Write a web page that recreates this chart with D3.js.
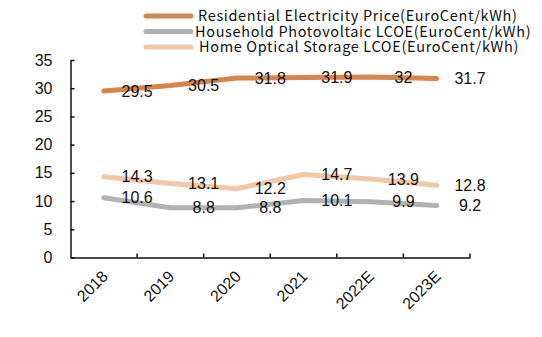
<!DOCTYPE html>
<html>
<head>
<meta charset="utf-8">
<script src="https://cdn.jsdelivr.net/npm/d3@7"></script>
<style>
  body { margin: 0; background: #fff; }
  svg { display: block; }
  .num { font-family: "Liberation Sans", Arial, sans-serif; font-size: 16px; fill: #111; }
  .legend text { font-family: "Noto Sans CJK SC", "Noto Sans", sans-serif; font-size: 14.5px; letter-spacing: 0.65px; fill: #111; }
</style>
</head>
<body>
<svg id="chart"></svg>
<script>
const years = ['2018', '2019', '2020', '2021', '2022E', '2023E'];
const residentialPrice = [29.5, 30.5, 31.8, 31.9, 32, 31.7];
const pvLcoe = [10.6, 8.8, 8.8, 10.1, 9.9, 9.2];
const storageLcoe = [14.3, 13.1, 12.2, 14.7, 13.9, 12.8];
const seriesNames = [
  'Residential Electricity Price(EuroCent/kWh)',
  'Household Photovoltaic LCOE(EuroCent/kWh)',
  'Home Optical Storage LCOE(EuroCent/kWh)'
];
const yTicks = [0, 5, 10, 15, 20, 25, 30, 35];

const width = 542, height = 337;
const colors = ['#d8844e', '#b1b1b1', '#f1c7a6'];
const series = [residentialPrice, pvLcoe, storageLcoe];

const svg = d3.select('#chart').attr('width', width).attr('height', height);

const x = d3.scaleBand().domain(years).range([70.5, 470]);
const y = d3.scaleLinear().domain([0, 35]).range([257.5, 60]);
const bw = x.bandwidth();

// y axis, ticks pointing into the plot
const yAxis = svg.append('g')
  .attr('transform', `translate(${x.range()[0]},0)`)
  .call(d3.axisLeft(y).tickValues(yTicks).tickSizeInner(-4).tickSizeOuter(0).tickPadding(18));
yAxis.select('.domain').attr('stroke', '#111').attr('stroke-width', 1.5);
yAxis.selectAll('.tick line').attr('stroke', '#111').attr('stroke-width', 1.5);
yAxis.selectAll('.tick text').attr('class', 'num');

// x axis: baseline plus ticks between categories
const xAxis = svg.append('g')
  .attr('transform', `translate(0,${y(0)})`)
  .call(d3.axisBottom(x).tickSize(0).tickFormat(''));
xAxis.select('.domain').attr('stroke', '#111').attr('stroke-width', 1.5);
xAxis.selectAll('.tick').remove();
xAxis.selectAll('line.sep')
  .data(years)
  .join('line')
  .attr('class', 'sep')
  .attr('x1', d => x(d) + bw).attr('x2', d => x(d) + bw)
  .attr('y1', 0).attr('y2', -4)
  .attr('stroke', '#111').attr('stroke-width', 1.5);

svg.append('g').selectAll('text')
  .data(years)
  .join('text')
  .attr('class', 'num')
  .attr('text-anchor', 'end')
  .attr('dy', '0.35em')
  .attr('transform', d => `translate(${x(d) + bw / 2 + 1},${y(0) + 16}) rotate(-45)`)
  .text(d => d);

// series lines
const line = d3.line()
  .x((d, i) => x(years[i]) + bw / 2)
  .y(d => y(d));

svg.append('g').selectAll('path')
  .data(series)
  .join('path')
  .attr('d', d => line(d))
  .attr('fill', 'none')
  .attr('stroke', (d, i) => colors[i])
  .attr('stroke-width', 5)
  .attr('stroke-linecap', 'round')
  .attr('stroke-linejoin', 'round');

// value labels sit on the category boundaries
series.forEach(vals => {
  svg.append('g').selectAll('text')
    .data(vals)
    .join('text')
    .attr('class', 'num')
    .attr('text-anchor', 'middle')
    .attr('dy', '0.35em')
    .attr('x', (d, i) => x(years[i]) + bw)
    .attr('y', d => y(d))
    .text(d => d);
});

// legend
const legend = svg.append('g').attr('class', 'legend');
const rows = legend.selectAll('g')
  .data(seriesNames)
  .join('g')
  .attr('transform', (d, i) => `translate(146,${16 + i * 15.5})`);
rows.append('line')
  .attr('x1', 0).attr('x2', 45)
  .attr('stroke', (d, i) => colors[i])
  .attr('stroke-width', 5)
  .attr('stroke-linecap', 'round');
rows.append('text')
  .attr('x', (d, i) => [52, 49, 53][i])
  .attr('dy', '0.35em')
  .text(d => d);
</script>
</body>
</html>
